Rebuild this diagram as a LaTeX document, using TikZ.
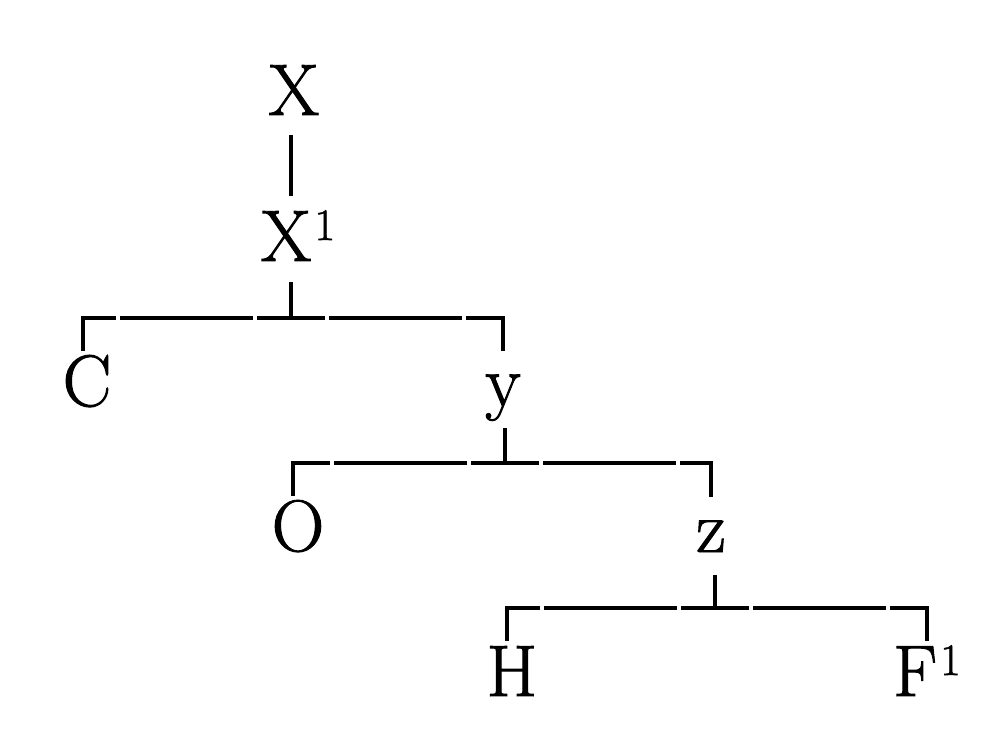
\documentclass[tikz,border=0pt]{standalone}
\usepackage{fontspec}
\newfontfamily\heavyserif{Latin Modern Roman}[FakeBold=1.3]
\begin{document}
\begin{tikzpicture}[x=1pt,y=-1pt,
  lbl/.style={font=\heavyserif\fontsize{73}{73}\selectfont, inner xsep=0pt, inner ysep=5pt,
              text height=50pt, text depth=0pt, anchor=base},
  vline/.style={line width=3.8pt},
  bar/.style={line width=3.8pt, dash pattern=on 34pt off 4pt on 133pt off 4pt on 500pt}]
\useasboundingbox (0,0) rectangle (1008,752);
\newcommand{\supone}{\kern3pt\raisebox{21pt}{\fontsize{45}{45}\selectfont 1}}
% nodes
\node[lbl] (X)  at (294,115) {X};
\node[lbl] (X1) at (298,261) {X\supone};
\node[lbl] (C)  at (87,406)  {C};
\node[lbl] (y)  at (503,406) {y};
\node[lbl] (O)  at (298,551) {O};
\node[lbl] (z)  at (711,552) {z};
\node[lbl] (H)  at (512,696) {H};
\node[lbl] (F1) at (927,696) {F\supone};
% junctions
\coordinate (j1) at (291,318);
\coordinate (j2) at (505,463);
\coordinate (j3) at (715,608);
% connectors
\draw[vline, shorten <=15pt, shorten >=10pt] (X.south -| j1) -- (X1.north -| j1);
\draw[vline, shorten <=16pt] (X1.south -| j1) -- (j1);
\draw[bar] (j1) -| ([xshift=-4pt]C.north);
\draw[bar] (j1) -| (y.north);
\draw[vline, shorten <=17pt] (y.south -| j2) -- (j2);
\draw[bar] (j2) -| ([xshift=-5pt]O.north);
\draw[bar] (j2) -| (z.north);
\draw[vline, shorten <=18pt] (z.south -| j3) -- (j3);
\draw[bar] (j3) -| ([xshift=-5pt]H.north);
\draw[bar] (j3) -| (F1.north);
\end{tikzpicture}
\end{document}
